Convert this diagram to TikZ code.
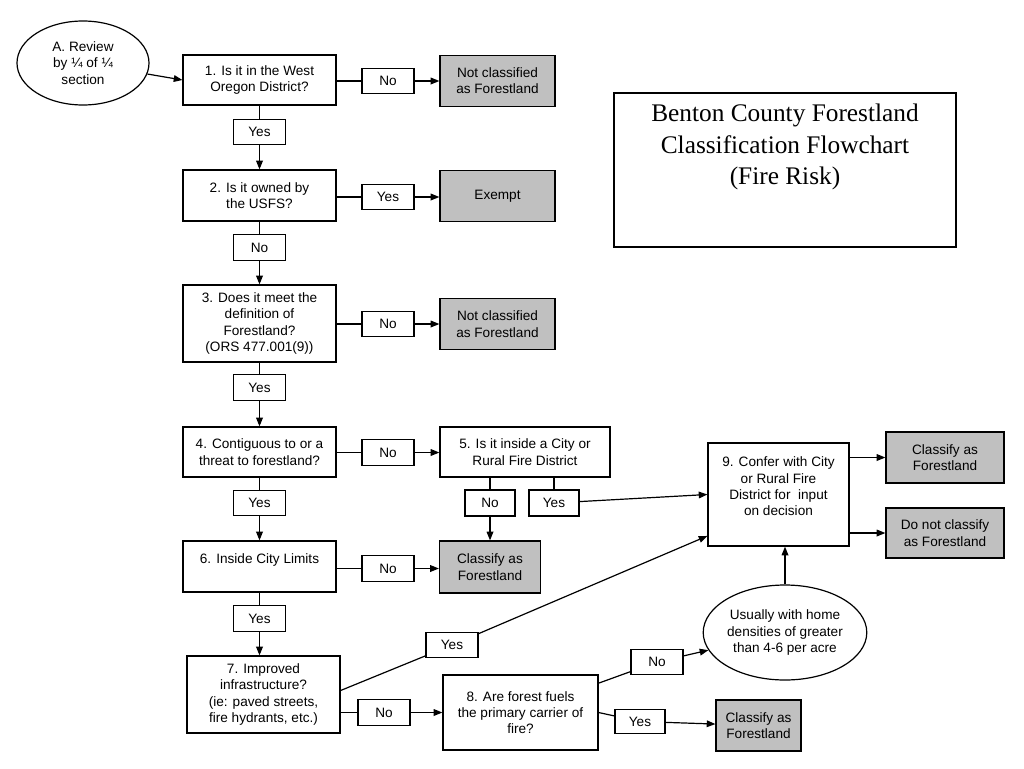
\documentclass[tikz,border=0pt]{standalone}
\usepackage{fontspec}
\setmainfont{Liberation Sans}
\newfontfamily\titlefont{Liberation Serif}
\usetikzlibrary{arrows.meta,shapes.geometric}
\definecolor{endgray}{RGB}{192,192,192}

\begin{document}
\begin{tikzpicture}[x=0.75pt,y=-0.75pt,line width=0.9pt,
    font=\fontsize{10.2}{12.2}\selectfont,
    >={Triangle[length=6.5pt,width=5pt]},
    sz/.style 2 args={minimum width=#1*0.75pt,minimum height=#2*0.75pt},
    qbox/.style={draw,rectangle,inner sep=0pt,align=center},
    ansbox/.style={draw,rectangle,inner sep=0pt,minimum width=39pt,minimum height=19pt},
    endbox/.style={qbox,fill=endgray},
    oval/.style={draw,ellipse,inner sep=0pt,align=center}]

    \useasboundingbox (0,0) rectangle (1024,768);

    % start and title
    \node[oval,sz={132}{84}] (rev) at (83,63) {A. Review\\by ¼ of ¼\\section};
    \node[draw,sz={342}{154}] (ttlbox) at (785,170) {};
    \node[font=\titlefont\fontsize{19}{23.6}\selectfont,align=center] (ttl) at (785,147)
        {Benton County Forestland\\Classification Flowchart\\(Fire Risk)};

    % left column
    \node[qbox,sz={153}{50}] (q1) at (259.5,80) {1. Is it in the West\\Oregon District?};
    \node[ansbox] (q1no) at (388,81) {No};
    \node[endbox,sz={115}{51}] (nf1) at (497.5,81) {Not classified\\as Forestland};
    \node[ansbox] (q1yes) at (259.5,132) {Yes};

    \node[qbox,sz={153}{51}] (q2) at (259.5,195.5) {2. Is it owned by\\the USFS?};
    \node[ansbox] (q2yes) at (388,197) {Yes};
    \node[endbox,sz={115}{51}] (ex) at (497.5,196) {Exempt};
    \node[ansbox] (q2no) at (259.5,247.5) {No};

    \node[qbox,sz={153}{77}] (q3) at (259.5,323.5) {3. Does it meet the\\definition of\\Forestland?\\(ORS 477.001(9))};
    \node[ansbox] (q3no) at (388,324) {No};
    \node[endbox,sz={115}{51}] (nf3) at (497.5,324) {Not classified\\as Forestland};
    \node[ansbox] (q3yes) at (259.5,387.5) {Yes};

    \node[qbox,sz={153}{50}] (q4) at (259.5,452) {4. Contiguous to or a\\threat to forestland?};
    \node[ansbox] (q4no) at (388,452.5) {No};
    \node[qbox,sz={170}{50}] (q5) at (525,452) {5. Is it inside a City or\\Rural Fire District};
    \node[ansbox,sz={50}{26}] (q5no) at (490,503) {No};
    \node[ansbox,sz={50}{26}] (q5yes) at (554,503) {Yes};
    \node[endbox,sz={101}{52}] (cf5) at (490,567) {Classify as\\Forestland};
    \node[ansbox] (q4yes) at (259.5,503) {Yes};

    \node[qbox,sz={153}{51}] (q6) at (259.5,566.5) {6. Inside City Limits\\\mbox{}};
    \node[ansbox] (q6no) at (388,568.5) {No};
    \node[ansbox] (q6yes) at (259.5,618.5) {Yes};

    \node[qbox,sz={153}{77}] (q7) at (263.5,694.5) {7. Improved\\infrastructure?\\(ie: paved streets,\\fire hydrants, etc.)};
    \node[ansbox] (q7yes) at (452,645) {Yes};
    \node[ansbox] (q7no) at (384,712.5) {No};
    \node[qbox,sz={155}{75}] (q8) at (520.5,712.5) {8. Are forest fuels\\the primary carrier of\\fire?};
    \node[ansbox] (q8no) at (657,662) {No};
    \node[ansbox,sz={50}{24}] (q8yes) at (640,721.5) {Yes};
    \node[endbox,sz={85}{51}] (cf8) at (758.5,725.5) {Classify as\\Forestland};

    % right side
    \node[oval,sz={154}{95}] (dens) at (785,632.5) {Usually with home\\densities of greater\\than 4-6 per acre};
    \node[qbox,sz={141}{103}] (q9) at (778.5,494.5) {9. Confer with City\\or Rural Fire\\District for\ \ input\\on decision\\\mbox{}};
    \node[endbox,sz={118}{51}] (cf9) at (945,457.5) {Classify as\\Forestland};
    \node[endbox,sz={118}{50}] (dn9) at (945,533) {Do not classify\\as Forestland};

    % connectors
    \draw[->] (rev) -- (q1.west);
    \draw (q1.east |- q1no) -- (q1no);
    \draw[->] (q1no) -- (nf1);
    \draw (q1) -- (q1yes);
    \draw[->] (q1yes) -- (q2);
    \draw (q2.east |- q2yes) -- (q2yes);
    \draw[->] (q2yes) -- (q2yes -| ex.west);
    \draw (q2) -- (q2no);
    \draw[->] (q2no) -- (q3);
    \draw (q3.east |- q3no) -- (q3no);
    \draw[->] (q3no) -- (nf3);
    \draw (q3) -- (q3yes);
    \draw[->] (q3yes) -- (q4);
    \draw (q4.east |- q4no) -- (q4no);
    \draw[->] (q4no) -- (q4no -| q5.west);
    \draw (q5.south -| q5no) -- (q5no);
    \draw[->] (q5no) -- (cf5);
    \draw (q5.south -| q5yes) -- (q5yes);
    \draw[->] (q5yes) -- (q9.west);
    \draw (q4) -- (q4yes);
    \draw[->] (q4yes) -- (q6);
    \draw (q6.east |- q6no) -- (q6no);
    \draw[->] (q6no) -- (q6no -| cf5.west);
    \draw (q6) -- (q6yes);
    \draw[->] (q6yes) -- (q6yes |- q7.north);
    \draw ([yshift=3pt]q7.east) -- (q7yes);
    \draw[->] (q7yes) -- ([yshift=8pt]q9.south west);
    \draw (q7.east |- q7no) -- (q7no);
    \draw[->] (q7no) -- (q7no -| q8.west);
    \draw ([yshift=22pt]q8.east) -- (q8no);
    \draw[->] (q8no) -- (dens);
    \draw (q8.east) -- (q8yes);
    \draw[->] (q8yes) -- (cf8);
    \draw[->] (dens) -- (dens.north |- q9.south);
    \draw[->] (q9.east |- cf9) -- (cf9);
    \draw[->] (q9.east |- dn9) -- (dn9);
\end{tikzpicture}
\end{document}
